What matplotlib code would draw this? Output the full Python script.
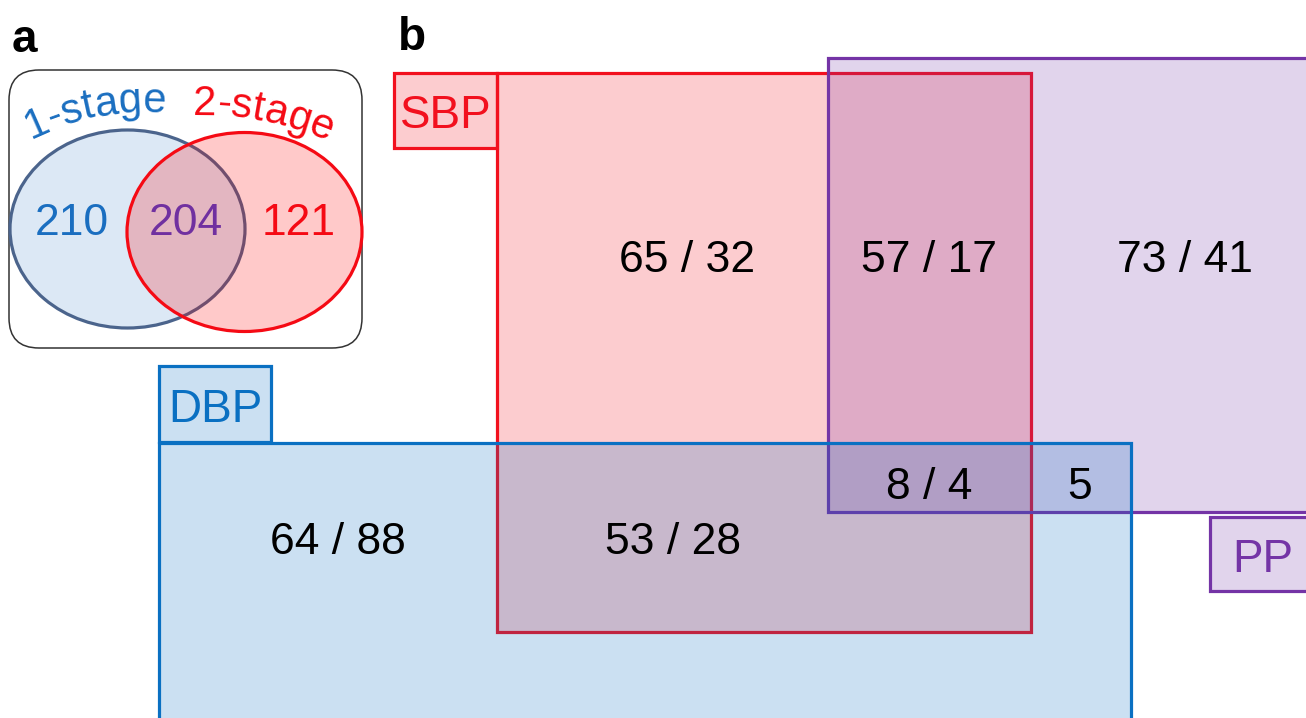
import numpy as np
import matplotlib
matplotlib.use("Agg")
import matplotlib.pyplot as plt
from matplotlib.patches import Rectangle, Ellipse, FancyBboxPatch
from matplotlib.font_manager import FontProperties

plt.rcParams["font.family"] = ["Liberation Sans", "DejaVu Sans"]

# panel a: loci found by the 1-stage and 2-stage designs
stage_names = ["1-stage", "2-stage"]
stage_counts = [210, 204, 121]  # 1-stage only, both, 2-stage only

# panel b: overlap between blood pressure traits
traits = ["SBP", "PP", "DBP"]
region_names = ["SBP", "SBP+PP", "PP", "DBP", "SBP+DBP", "SBP+DBP+PP", "DBP+PP"]
region_labels = ["65 / 32", "57 / 17", "73 / 41", "64 / 88", "53 / 28", "8 / 4", "5"]

RED = "#f2101e"
BLUE = "#0a70c2"
PURPLE = "#7434a6"
trait_colors = {"SBP": RED, "PP": PURPLE, "DBP": BLUE}

# layout, in pixels (y grows downwards); text y values are baselines
trait_boxes = {"SBP": (497, 73, 1031, 632), "PP": (828, 58, 1320, 512), "DBP": (159, 443, 1131, 730)}
tag_boxes = {"SBP": (394, 73, 497, 148), "PP": (1210, 517, 1320, 591), "DBP": (159, 366, 271, 442)}
tag_text_pos = {"SBP": (446, 128), "PP": (1263, 572), "DBP": (215, 422)}
region_pos = [(687, 272), (929, 272), (1185, 272), (338, 554), (673, 554), (929, 499), (1080, 499)]


def arc_text(ax, s, mid, r, phi_mid, size, color):
    # put characters one by one along a circular arc
    renderer = ax.figure.canvas.get_renderer()
    fp = FontProperties(family=["Liberation Sans"], size=size)
    widths = [renderer.get_text_width_height_descent(c, fp, ismath=False)[0] for c in s]
    phi_mid = np.radians(phi_mid)
    cx = mid[0] - r * np.sin(phi_mid)
    cy = mid[1] + r * np.cos(phi_mid)
    phi = phi_mid - sum(widths) / (2 * r)
    for c, w in zip(s, widths):
        p = phi + w / (2 * r)
        ax.text(cx + r * np.sin(p), cy - r * np.cos(p), c, fontproperties=fp, color=color,
                rotation=-np.degrees(p), ha="center", va="baseline", rotation_mode="anchor")
        phi += w / r


def main():
    fig = plt.figure(figsize=(13.06, 7.18), dpi=100)
    ax = fig.add_axes([0, 0, 1, 1])
    ax.set_xlim(0, 1306)
    ax.set_ylim(718, 0)
    ax.axis("off")

    # ---- panel a ----
    ax.text(12, 52, "a", fontsize=33, fontweight="bold", ha="left", va="baseline")
    ax.add_patch(FancyBboxPatch((9, 70), 353, 278, boxstyle="round,pad=0,rounding_size=30",
                                fc="white", ec="#333333", lw=1.1))
    ax.add_patch(Ellipse((127.5, 229), 235, 198, fc="#dce8f5", ec="#4b648c", lw=2.3))
    ax.add_patch(Ellipse((244.5, 232), 235, 199, fc=(1, 0, 0, 0.21), ec="#f50a14", lw=2.3))
    arc_text(ax, stage_names[0], (96, 117), 260, -11, 30, "#1a6ec0")
    arc_text(ax, stage_names[1], (262, 121), 320, 11, 30, "#f50a14")
    for val, x, col in zip(stage_counts, [72, 186, 299], ["#1a6ec0", "#7030a0", "#f50a14"]):
        ax.text(x, 235, str(val), fontsize=32, color=col, ha="center", va="baseline")

    # ---- panel b ----
    ax.text(398, 50, "b", fontsize=33, fontweight="bold", ha="left", va="baseline")
    for t in traits:
        col = trait_colors[t]
        for box in (trait_boxes[t], tag_boxes[t]):
            x0, y0, x1, y1 = box
            ax.add_patch(Rectangle((x0, y0), x1 - x0, y1 - y0, fc=matplotlib.colors.to_rgba(col, 0.21),
                                   ec=col, lw=2.3))
        ax.text(*tag_text_pos[t], t, fontsize=33, color=col, ha="center", va="baseline")

    for lab, (x, y) in zip(region_labels, region_pos):
        ax.text(x, y, lab, fontsize=32, color="black", ha="center", va="baseline")

    fig.savefig("out.png", dpi=100)


if __name__ == "__main__":
    main()
